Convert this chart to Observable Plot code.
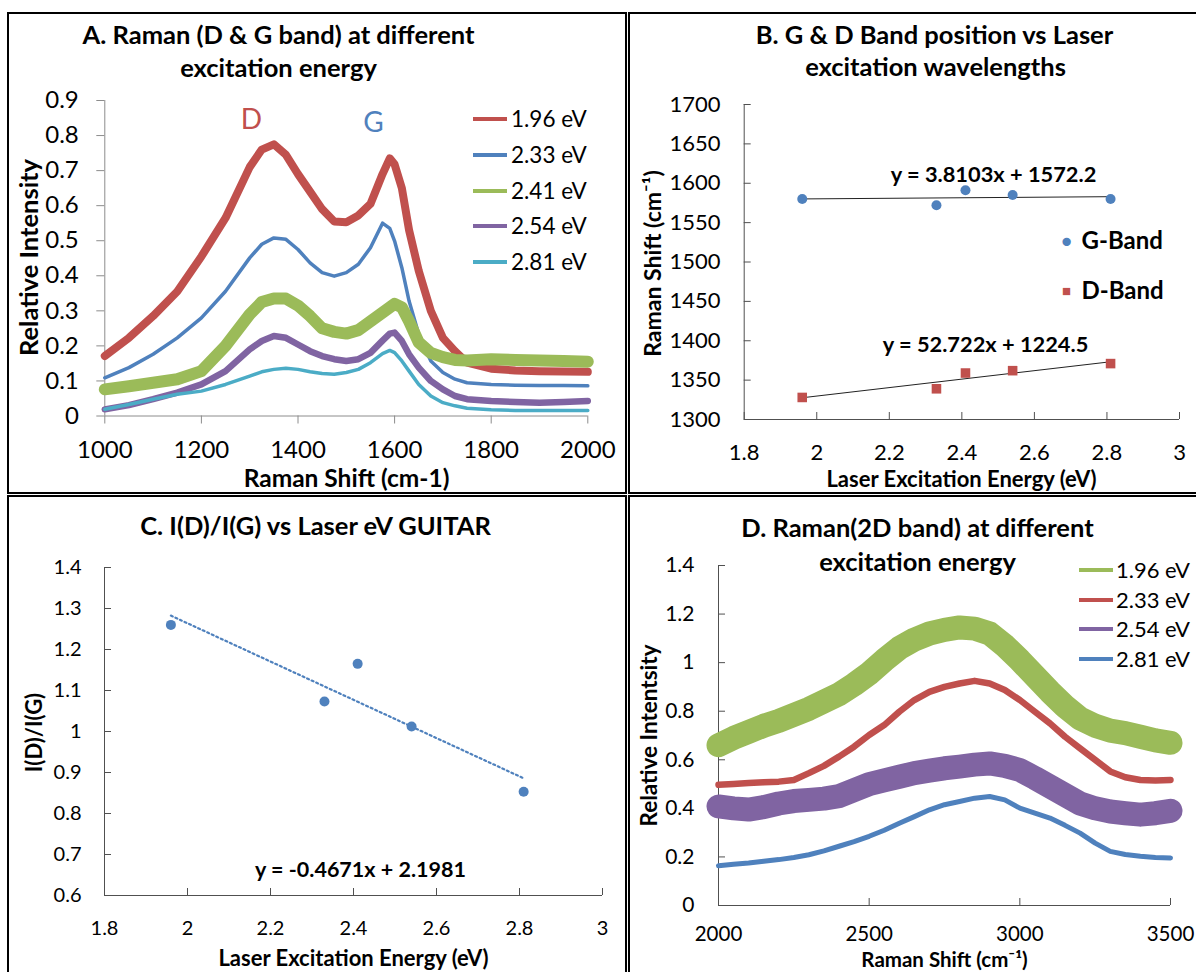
<!DOCTYPE html>
<html><head><meta charset="utf-8">
<script src="https://cdn.jsdelivr.net/npm/d3@7"></script>
<script src="https://cdn.jsdelivr.net/npm/@observablehq/plot@0.6"></script>
<style>
body{margin:0;background:#fff;font-family:Lato,"Open Sans",sans-serif;}
#page{position:relative;width:1196px;height:972px;overflow:hidden;background:#fff}
.box{position:absolute;border:2px solid #000;box-sizing:border-box}
.lgline{position:absolute;height:4px}
.lgtext{position:absolute;white-space:nowrap;line-height:1;transform:translateY(-50%);color:#000}
</style></head><body><div id="page"></div>
<script>
// ---------- data ----------
const shiftA = [1000,1050,1100,1150,1200,1250,1300,1325,1350,1375,1400,1425,1450,1475,1500,1525,1550,1575,1590,1600,1615,1630,1650,1675,1700,1725,1750,1800,1850,1900,1950,2000];
const a196 = [.171,.223,.285,.355,.455,.565,.71,.76,.775,.745,.69,.64,.59,.555,.553,.572,.605,.69,.735,.718,.65,.53,.414,.3,.223,.185,.152,.135,.13,.128,.127,.126];
const a233 = [.109,.138,.176,.223,.28,.356,.451,.49,.508,.504,.475,.437,.409,.399,.409,.433,.48,.55,.535,.499,.423,.328,.233,.157,.124,.105,.095,.09,.088,.087,.087,.086];
const a241 = [.076,.085,.095,.105,.128,.2,.29,.325,.335,.335,.315,.285,.25,.24,.235,.245,.27,.295,.31,.32,.31,.27,.21,.18,.168,.16,.158,.162,.16,.158,.157,.155];
const a254 = [.019,.031,.048,.067,.09,.128,.19,.214,.228,.223,.204,.185,.171,.162,.157,.162,.18,.215,.235,.238,.214,.176,.138,.1,.076,.057,.048,.043,.04,.038,.04,.043];
const a281 = [.019,.033,.048,.062,.071,.09,.114,.126,.133,.136,.133,.126,.121,.119,.124,.133,.152,.178,.187,.181,.157,.128,.09,.057,.038,.029,.022,.018,.016,.016,.016,.016];
const seriesA = ["1.96 eV","2.33 eV","2.41 eV","2.54 eV","2.81 eV"];
const xTicksA = [1000,1200,1400,1600,1800,2000];
const yTicksA = [0,0.1,0.2,0.3,0.4,0.5,0.6,0.7,0.8,0.9];

const energy = [1.96,2.33,2.41,2.54,2.81];
const gBand = [1580,1572,1591,1585,1580];
const dBand = [1328,1339,1359,1362,1371];
const ratioDG = [1.26,1.073,1.165,1.012,0.853];
const xTicksE = [1.8,2,2.2,2.4,2.6,2.8,3];
const yTicksB = [1300,1350,1400,1450,1500,1550,1600,1650,1700];
const yTicksC = [0.6,0.7,0.8,0.9,1,1.1,1.2,1.3,1.4];

const shiftD = [2000,2050,2100,2150,2200,2250,2300,2350,2400,2450,2500,2550,2600,2650,2700,2750,2800,2850,2900,2950,3000,3050,3100,3150,3200,3250,3300,3350,3400,3450,3500];
const d196 = [.66,.69,.715,.74,.76,.785,.81,.84,.87,.91,.955,1.01,1.06,1.095,1.12,1.135,1.145,1.14,1.12,1.07,1.01,.945,.88,.82,.77,.74,.72,.71,.695,.68,.67];
const d233 = [.497,.5,.504,.507,.51,.517,.545,.575,.613,.654,.702,.743,.798,.846,.88,.9,.914,.925,.914,.887,.846,.798,.75,.695,.647,.6,.552,.528,.517,.515,.517];
const d254 = [.408,.4,.395,.405,.42,.43,.435,.44,.45,.475,.5,.515,.53,.545,.555,.565,.572,.58,.585,.575,.558,.525,.49,.455,.42,.4,.387,.38,.374,.38,.39];
const d281 = [.164,.17,.175,.182,.189,.198,.209,.225,.244,.263,.285,.31,.339,.366,.394,.415,.428,.442,.449,.435,.401,.38,.36,.33,.298,.257,.223,.21,.203,.198,.196];
const seriesD = ["1.96 eV","2.33 eV","2.54 eV","2.81 eV"];
const xTicksD = [2000,2500,3000,3500];
const yTicksD = [0,0.2,0.4,0.6,0.8,1,1.2,1.4];

// ---------- styles ----------
const FONT = "Lato, 'Open Sans', sans-serif";
const RED="#C0504D", BLUE="#4F81BD", GREEN="#9BBB59", PURPLE="#8064A2", CYAN="#4BACC6";
const AXA="#8c8c8c", AXB="#505050";
const TITLE = 25.5;
const page = document.getElementById("page");
const fmt = d => String(d);

function box(l,t,r,b){const d=document.createElement("div");d.className="box";Object.assign(d.style,{left:l+"px",top:t+"px",width:(r-l)+"px",height:(b-t)+"px"});page.appendChild(d);}
box(7,12,627,494); box(628,12,1200,494); box(7,495,627,980); box(628,495,1200,980);

function T(s, ax, ay, f, o={}) {
  return Plot.text([s], {text: d=>d, frameAnchor:"top-left", dx: ax-f.fx0, dy: ay-f.fy0,
    textAnchor:"middle", lineAnchor:"middle", fill:"#000", fontFamily: FONT, ...o});
}
function panel(f, xDomain, yDomain, marks) {
  const el = Plot.plot({
    width: f.width, height: f.height,
    marginLeft: f.fx0-f.left, marginRight: f.left+f.width-f.fx1,
    marginTop: f.fy0-f.top, marginBottom: f.top+f.height-f.fy1,
    x: {domain: xDomain}, y: {domain: yDomain},
    style: {background:"transparent", fontFamily: FONT, overflow:"visible"},
    marks
  });
  Object.assign(el.style, {position:"absolute", left:f.left+"px", top:f.top+"px"});
  page.appendChild(el);
}
function legend(rows, x1, x2, tx, fs) {
  rows.forEach(([label,color,y]) => {
    const l=document.createElement("div"); l.className="lgline";
    Object.assign(l.style,{left:x1+"px",top:(y-2)+"px",width:(x2-x1)+"px",background:color});
    page.appendChild(l);
    const t=document.createElement("div"); t.className="lgtext"; t.textContent=label;
    Object.assign(t.style,{left:tx+"px",top:y+"px",fontSize:fs+"px"});
    page.appendChild(t);
  });
}

// ---------- Panel A ----------
const fA = {left:9,top:14,width:616,height:478,fx0:104.3,fx1:587.3,fy0:100,fy1:415.5};
const lineA = (ys,color,w) => Plot.line(shiftA,{x:shiftA,y:ys,stroke:color,strokeWidth:w,strokeLinejoin:"round"});
panel(fA,[1000,2000],[0,0.9],[
  Plot.ruleX([1000],{stroke:AXA}), Plot.ruleY([0],{stroke:AXA}),
  Plot.axisX(xTicksA,{tickSize:8,tickPadding:17,fontSize:24,stroke:AXA,fill:"#000",label:null,tickFormat:fmt}),
  Plot.axisY(yTicksA,{tickSize:8,tickPadding:18,fontSize:24,stroke:AXA,fill:"#000",label:null,tickFormat:fmt}),
  lineA(a196,RED,8), lineA(a233,BLUE,3.5), lineA(a241,GREEN,12), lineA(a254,PURPLE,6.5), lineA(a281,CYAN,3.5),
  T("A. Raman (D & G band) at different",278,35,fA,{fontWeight:"bold",fontSize:TITLE}),
  T("excitation energy",278,68,fA,{fontWeight:"bold",fontSize:TITLE}),
  T("Relative Intensity",29,257,fA,{fontWeight:"bold",fontSize:25.5,rotate:-90}),
  T("Raman Shift (cm-1)",346,479,fA,{fontWeight:"bold",fontSize:24.5}),
  T("D",251,120,fA,{fontSize:28,fill:RED}),
  T("G",373,123,fA,{fontSize:28,fill:BLUE})
]);
legend(seriesA.map((s,i)=>[s,[RED,BLUE,GREEN,PURPLE,CYAN][i],[119,155,191,226,262][i]]),473,507,511,22.5);

// ---------- Panel B ----------
const fB = {left:630,top:14,width:566,height:478,fx0:743.7,fx1:1179,fy0:104,fy1:419};
panel(fB,[1.8,3],[1300,1700],[
  Plot.ruleX([1.8],{stroke:AXB}), Plot.ruleY([1300],{stroke:AXB}),
  Plot.axisX(xTicksE,{tickSize:-7,tickPadding:32.3,fontSize:22,stroke:AXB,fill:"#000",label:null,tickFormat:fmt}),
  Plot.axisY(yTicksB,{tickSize:-7,tickPadding:30.7,fontSize:22,stroke:AXB,fill:"#000",label:null,tickFormat:fmt}),
  Plot.linearRegressionY(energy,{x:energy,y:gBand,ci:0,stroke:"#222",strokeWidth:1}),
  Plot.linearRegressionY(energy,{x:energy,y:dBand,ci:0,stroke:"#222",strokeWidth:1}),
  Plot.dot(energy,{x:energy,y:gBand,r:5,fill:BLUE,stroke:null}),
  Plot.dot(energy,{x:energy,y:dBand,r:5.4,symbol:"square",fill:RED,stroke:null}),
  T("B. G & D Band position vs Laser",934,35,fB,{fontWeight:"bold",fontSize:TITLE}),
  T("excitation wavelengths",935,67,fB,{fontWeight:"bold",fontSize:TITLE}),
  T("Raman Shift (cm⁻¹)",653,263,fB,{fontWeight:"bold",fontSize:23,rotate:-90}),
  T("Laser Excitation Energy (eV)",961,479,fB,{fontWeight:"bold",fontSize:22}),
  T("y = 3.8103x + 1572.2",993,175,fB,{fontWeight:"bold",fontSize:21.8}),
  T("y = 52.722x + 1224.5",985,345,fB,{fontWeight:"bold",fontSize:21.8}),
  T("G-Band",1081,241,fB,{fontWeight:"bold",fontSize:24,textAnchor:"start"}),
  T("D-Band",1081,291,fB,{fontWeight:"bold",fontSize:24,textAnchor:"start"}),
  T("●",1066,241,fB,{fontSize:17,fill:BLUE}),
  T("■",1066,291,fB,{fontSize:15,fill:RED})
]);

// ---------- Panel C ----------
const fC = {left:9,top:497,width:616,height:475,fx0:104,fx1:602,fy0:567,fy1:895};
panel(fC,[1.8,3],[0.6,1.4],[
  Plot.ruleX([1.8],{stroke:AXB}), Plot.ruleY([0.6],{stroke:AXB}),
  Plot.axisX(xTicksE,{tickSize:-7,tickPadding:32,fontSize:20,stroke:AXB,fill:"#000",label:null,tickFormat:fmt}),
  Plot.axisY(yTicksC,{tickSize:-7,tickPadding:30,fontSize:20,stroke:AXB,fill:"#000",label:null,tickFormat:fmt}),
  Plot.linearRegressionY(energy,{x:energy,y:ratioDG,ci:0,stroke:BLUE,strokeWidth:2.2,strokeDasharray:"2,3"}),
  Plot.dot(energy,{x:energy,y:ratioDG,r:5,fill:BLUE,stroke:null}),
  T("C. I(D)/I(G) vs Laser eV GUITAR",315,526,fC,{fontWeight:"bold",fontSize:TITLE}),
  T("I(D)/I(G)",34,732,fC,{fontWeight:"bold",fontSize:22,rotate:-90}),
  T("Laser Excitation Energy (eV)",353,958,fC,{fontWeight:"bold",fontSize:22}),
  T("y = -0.4671x + 2.1981",360,870,fC,{fontWeight:"bold",fontSize:21.5})
]);

// ---------- Panel D ----------
const fD = {left:630,top:497,width:566,height:475,fx0:718,fx1:1170,fy0:565,fy1:905};
const lineD = (ys,color,w) => Plot.line(shiftD,{x:shiftD,y:ys,stroke:color,strokeWidth:w,strokeLinejoin:"round"});
panel(fD,[2000,3500],[0,1.4],[
  Plot.ruleX([2000],{stroke:AXB}), Plot.ruleY([0],{stroke:AXB}),
  Plot.axisX(xTicksD,{tickSize:-7,tickPadding:28,fontSize:20.5,stroke:AXB,fill:"#000",label:null,tickFormat:fmt}),
  Plot.axisY(yTicksD,{tickSize:-7,tickPadding:31,fontSize:21,stroke:AXB,fill:"#000",label:null,tickFormat:fmt}),
  lineD(d196,GREEN,24), lineD(d233,RED,6.5), lineD(d254,PURPLE,24), lineD(d281,BLUE,5),
  T("D. Raman(2D band) at different",917,528,fD,{fontWeight:"bold",fontSize:TITLE}),
  T("excitation energy",917,562,fD,{fontWeight:"bold",fontSize:TITLE}),
  T("Relative Intentsity",649,735,fD,{fontWeight:"bold",fontSize:22.5,rotate:-90}),
  T("Raman Shift (cm⁻¹)",944,959.5,fD,{fontWeight:"bold",fontSize:20.5})
]);
legend(seriesD.map((s,i)=>[s,[GREEN,RED,PURPLE,BLUE][i],[570,600,629,659][i]]),1079,1113,1116,22);
</script></body></html>
